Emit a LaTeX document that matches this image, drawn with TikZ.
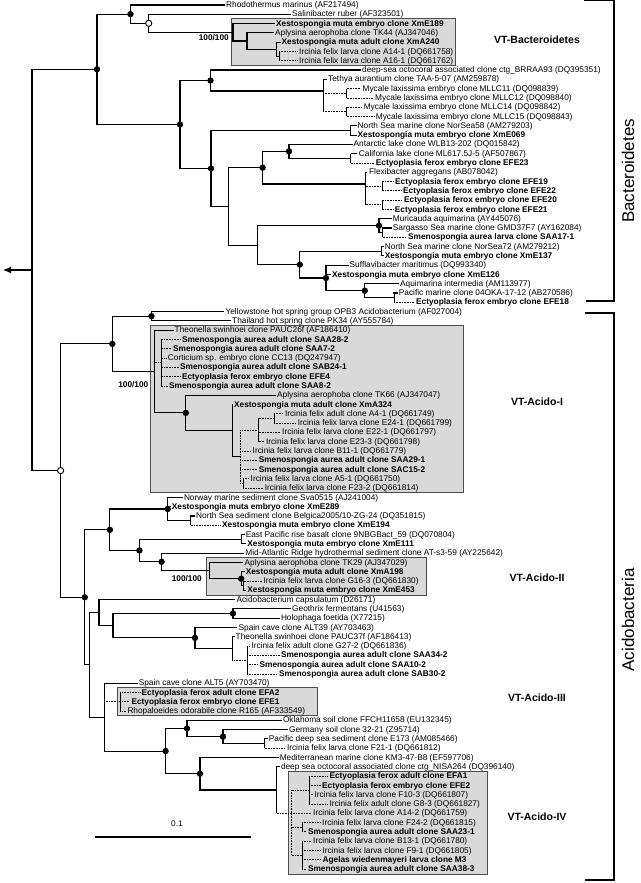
\documentclass[tikz,border=0pt]{standalone}
\usepackage{fontspec}
\setmainfont{Liberation Sans}
\usetikzlibrary{arrows.meta}
\newcommand\Lf[7]{\node[#6] (#1) at ({#3-1.5},#4) {#7};\draw[#5] (#2 |- #1.mid west) -- (#1.mid west);}
\begin{document}
\begin{tikzpicture}[x=1pt,y=-1pt,
  tl/.style={line width=1.1pt,line cap=rect},
  tn/.style={line width=0.6pt},
  dl/.style={line width=0.7pt,dash pattern=on 0.7pt off 0.9pt},
  lab/.style={anchor=mid west,inner xsep=1.5pt,inner ysep=0pt,font=\fontsize{8.3}{9}\selectfont},
  blab/.style={lab,font=\fontsize{8.3}{9}\selectfont\bfseries},
  vtbox/.style={fill=black!15,draw=black!70,line width=0.9pt},
  vtlab/.style={font=\fontsize{10.5}{12}\selectfont\bfseries},
  bs/.style={font=\fontsize{8.3}{9}\selectfont\bfseries,anchor=mid east,inner sep=0pt},
  brk/.style={line width=1.2pt},
  grp/.style={font=\fontsize{17}{20}\selectfont,rotate=90}]
\useasboundingbox (0,0) rectangle (640,883);
% boxes
\draw[vtbox] (231.5,18.9) rectangle (455,65.4);
\draw[vtbox] (150.7,325.5) rectangle (463.4,492.7);
\draw[vtbox] (206.8,557.8) rectangle (426.2,595);
\draw[vtbox] (117.2,687.8) rectangle (317.1,715.7);
\draw[vtbox] (288,771.4) rectangle (487,874);
% internal nodes Bacteroidetes
\coordinate (Rt) at (32,270);
\coordinate (tip) at (3,270);
\coordinate (R) at (97,69.3);
\coordinate (A) at (130.5,14.15);
\coordinate (S) at (148.7,23.3);
\coordinate (B1) at (233,32.3);
\coordinate (B2) at (247,41);
\coordinate (B3) at (276.5,49.1);
\coordinate (B4) at (279,56.1);
\coordinate (C) at (180,124.5);
\coordinate (D) at (210.5,80.5);
\coordinate (E) at (323,91);
\coordinate (E1) at (346.6,93.25);
\coordinate (E2) at (346.6,111.84);
\coordinate (F) at (350.7,130.4);
\coordinate (G) at (211,168.5);
\coordinate (H) at (228.3,206.4);
\coordinate (I) at (262.6,167.7);
\coordinate (K) at (289,151.3);
\coordinate (L) at (350.7,158.3);
\coordinate (M) at (365.6,184);
\coordinate (N1) at (381.8,186.2);
\coordinate (N2) at (381.8,204.7);
\coordinate (J) at (257.3,245.2);
\coordinate (O) at (379,225.7);
\coordinate (Q) at (382.6,232.6);
\coordinate (P) at (299.8,264.6);
\coordinate (R2) at (381.8,251.2);
\coordinate (S2) at (326,278);
\coordinate (T2) at (364.8,290.7);
\coordinate (U) at (394,297.6);
% internal nodes Acidobacteria
\coordinate (AC) at (60.6,470.6);
\coordinate (W) at (112.3,343.9);
\coordinate (V) at (151.5,316.2);
\coordinate (X) at (154.7,371.5);
\coordinate (Y) at (160.8,362.7);
\coordinate (Z) at (185.8,412.9);
\coordinate (Z2) at (232.3,430.6);
\coordinate (Z3) at (240.4,456.7);
\coordinate (Z4) at (258.6,430);
\coordinate (Z6) at (274,418.4);
\coordinate (Z5) at (243.2,483.4);
\coordinate (AB) at (84.8,597.3);
\coordinate (AA) at (109.9,529.8);
\coordinate (BA) at (167.7,509);
\coordinate (BP) at (190.7,520.6);
\coordinate (BB) at (139.4,550.5);
\coordinate (BC) at (241.2,539.2);
\coordinate (BD) at (161.6,561.8);
\coordinate (BE) at (209.3,570.5);
\coordinate (BF) at (241.2,578.7);
\coordinate (BG) at (243.5,585.6);
\coordinate (AD) at (89.7,664.9);
\coordinate (AE) at (99,612.6);
\coordinate (AG) at (113,625.7);
\coordinate (AH) at (233,613.5);
\coordinate (AI) at (195,637.9);
\coordinate (AJ) at (232.3,648.4);
\coordinate (AK) at (247.2,660);
\coordinate (AF) at (104.2,717.1);
\coordinate (AIII) at (120.4,701.75);
\coordinate (AL) at (165.6,751.1);
\coordinate (AM) at (187,728.5);
\coordinate (AO) at (223,736.6);
\coordinate (AP) at (264.6,743.6);
\coordinate (AN) at (200,773.7);
\coordinate (AQ) at (276.7,790);
\coordinate (AR) at (291.7,813.23);
\coordinate (AS) at (309,790);
\coordinate (AT) at (302.2,827.2);
\coordinate (AU) at (302.2,855);
% leaves Bacteroidetes
\Lf{l1}{A}{226}{5}{tl}{lab}{Rhodothermus marinus (AF217494)}
\Lf{l2}{S}{292}{14.29}{tl}{lab}{Salinibacter ruber (AF323501)}
\Lf{l3}{B1}{276}{23.58}{tl}{blab}{Xestospongia muta embryo clone XmE189}
\Lf{l4}{B2}{275}{32.87}{tl}{lab}{Aplysina aerophoba clone TK44 (AJ347046)}
\Lf{l5}{B3}{281.5}{42.16}{tl}{blab}{Xestospongia muta adult clone XmA240}
\Lf{l6}{B4}{299}{51.45}{dl}{lab}{Ircinia felix larva clone A14-1 (DQ661758)}
\Lf{l7}{B4}{299}{60.74}{dl}{lab}{Ircinia felix larva clone A16-1 (DQ661762)}
\Lf{l8}{D}{362}{70.03}{tl}{lab}{deep-sea octocoral associated clone ctg\_BRRAA93 (DQ395351)}
\Lf{l9}{E}{328}{79.32}{tn}{lab}{Tethya aurantium clone TAA-5-07 (AM259878)}
\Lf{l10}{E1}{362.4}{88.61}{dl}{lab}{Mycale laxissima embryo clone MLLC11 (DQ098839)}
\Lf{l11}{E1}{375}{97.9}{dl}{lab}{Mycale laxissima embryo clone MLLC12 (DQ098840)}
\Lf{l12}{E2}{363.6}{107.19}{dl}{lab}{Mycale laxissima embryo clone MLLC14 (DQ098842)}
\Lf{l13}{E2}{375.7}{116.48}{dl}{lab}{Mycale laxissima embryo clone MLLC15 (DQ098843)}
\Lf{l14}{F}{357.5}{125.77}{tl}{lab}{North Sea marine clone NorSea58 (AM279203)}
\Lf{l15}{F}{357.5}{135.06}{tl}{blab}{Xestospongia muta embryo clone XmE069}
\Lf{l16}{K}{353.5}{144.35}{tl}{lab}{Antarctic lake clone WLB13-202 (DQ015842)}
\Lf{l17}{L}{358.7}{153.64}{tn}{lab}{California lake clone ML617.5J-5 (AF507867)}
\Lf{l18}{L}{375.7}{162.93}{dl}{blab}{Ectyoplasia ferox embryo clone EFE23}
\Lf{l19}{M}{368.9}{172.22}{tn}{lab}{Flexibacter aggregans (AB078042)}
\Lf{l20}{N1}{395}{181.51}{dl}{blab}{Ectyoplasia ferox embryo clone EFE19}
\Lf{l21}{N1}{403}{190.8}{dl}{blab}{Ectyoplasia ferox embryo clone EFE22}
\Lf{l22}{N2}{404}{200.09}{dl}{blab}{Ectyoplasia ferox embryo clone EFE20}
\Lf{l23}{N2}{394.7}{209.38}{dl}{blab}{Ectyoplasia ferox embryo clone EFE21}
\Lf{l24}{O}{392.7}{218.67}{tl}{lab}{Muricauda aquimarina (AY445076)}
\Lf{l25}{Q}{392.7}{227.96}{tl}{lab}{Sargasso Sea marine clone GMD37F7 (AY162084)}
\Lf{l26}{Q}{408}{237.25}{dl}{blab}{Smenospongia aurea larva clone SAA17-1}
\Lf{l27}{R2}{384.6}{246.54}{tl}{lab}{North Sea marine clone NorSea72 (AM279212)}
\Lf{l28}{R2}{384.6}{255.83}{tl}{blab}{Xestospongia muta embryo clone XmE137}
\Lf{l29}{S2}{349.5}{265.12}{tl}{lab}{Sufflavibacter maritimus (DQ993340)}
\Lf{l30}{S2}{332}{274.41}{tl}{blab}{Xestospongia muta embryo clone XmE126}
\Lf{l31}{T2}{400}{283.7}{tl}{lab}{Aquimarina intermedia (AM113977)}
\Lf{l32}{U}{398.7}{292.99}{tl}{lab}{Pacific marine clone 04OKA-17-12 (AB270586)}
\Lf{l33}{U}{416}{302.28}{dl}{blab}{Ectyoplasia ferox embryo clone EFE18}
% leaves Acidobacteria
\Lf{l34}{V}{225.4}{311.57}{tl}{lab}{Yellowstone hot spring group OPB3 Acidobacterium (AF027004)}
\Lf{l35}{V}{232}{320.86}{tl}{lab}{Thailand hot spring clone PK34 (AY555784)}
\Lf{l36}{X}{174.5}{330.15}{tl}{lab}{Theonella swinhoei clone PAUC26f (AF186410)}
\Lf{l37}{Y}{181.8}{339.44}{dl}{blab}{Smenospongia aurea adult clone SAA28-2}
\Lf{l38}{Y}{173}{348.73}{dl}{blab}{Smenospongia aurea adult clone SAA7-2}
\Lf{l39}{Y}{167.7}{358.02}{dl}{lab}{Corticium sp. embryo clone CC13 (DQ247947)}
\Lf{l40}{Y}{180}{367.31}{dl}{blab}{Smenospongia aurea adult clone SAB24-1}
\Lf{l41}{Y}{181.8}{376.6}{dl}{blab}{Ectyoplasia ferox embryo clone EFE4}
\Lf{l42}{Y}{168.9}{385.89}{dl}{blab}{Smenospongia aurea adult clone SAA8-2}
\Lf{l43}{Z}{277}{395.18}{tl}{lab}{Aplysina aerophoba clone TK66 (AJ347047)}
\Lf{l44}{Z2}{234}{404.47}{tl}{blab}{Xestospongia muta adult clone XmA324}
\Lf{l45}{Z6}{284.8}{413.76}{dl}{lab}{Ircinia felix adult clone A4-1 (DQ661749)}
\Lf{l46}{Z6}{297.7}{423.05}{dl}{lab}{Ircinia felix larva clone E24-1 (DQ661799)}
\Lf{l47}{Z4}{282}{432.34}{dl}{lab}{Ircinia felix larva clone E22-1 (DQ661797)}
\Lf{l48}{Z4}{265.8}{441.63}{dl}{lab}{Ircinia felix larva clone E23-3 (DQ661798)}
\Lf{l49}{Z3}{252.5}{450.92}{dl}{lab}{Ircinia felix larva clone B11-1 (DQ661779)}
\Lf{l50}{Z3}{258.6}{460.21}{dl}{blab}{Smenospongia aurea adult clone SAA29-1}
\Lf{l51}{Z3}{258.6}{469.5}{dl}{blab}{Smenospongia aurea adult clone SAC15-2}
\Lf{l52}{Z5}{250.5}{478.79}{dl}{lab}{Ircinia felix larva clone A5-1 (DQ661750)}
\Lf{l53}{Z5}{264.6}{488.08}{dl}{lab}{Ircinia felix larva clone F23-2 (DQ661814)}
\Lf{l54}{BA}{183.8}{497.37}{tl}{lab}{Norway marine sediment clone Sva0515 (AJ241004)}
\Lf{l55}{BA}{171.7}{506.66}{tl}{blab}{Xestospongia muta embryo clone XmE289}
\Lf{l56}{BP}{196}{515.95}{tl}{lab}{North Sea sediment clone Belgica2005/10-ZG-24 (DQ351815)}
\Lf{l57}{BP}{222}{525.24}{dl}{blab}{Xestospongia muta embryo clone XmE194}
\Lf{l58}{BC}{245.6}{534.53}{tl}{lab}{East Pacific rise basalt clone 9NBGBact\_59 (DQ070804)}
\Lf{l59}{BC}{247.2}{543.82}{tl}{blab}{Xestospongia muta embryo clone XmE111}
\Lf{l60}{BD}{245.2}{553.11}{tl}{lab}{Mid-Atlantic Ridge hydrothermal sediment clone AT-s3-59 (AY225642)}
\Lf{l61}{BE}{244.4}{562.4}{tl}{lab}{Aplysina aerophoba clone TK29 (AJ347029)}
\Lf{l62}{BF}{245.6}{571.69}{tl}{blab}{Xestospongia muta adult clone XmA198}
\Lf{l63}{BG}{263.4}{580.98}{dl}{lab}{Ircinia felix larva clone G16-3 (DQ661830)}
\Lf{l64}{BG}{247.2}{590.27}{tl}{blab}{Xestospongia muta embryo clone XmE453}
\Lf{l65}{AE}{236.3}{599.56}{tl}{lab}{Acidobacterium capsulatum (D26171)}
\Lf{l66}{AH}{292}{608.85}{tl}{lab}{Geothrix fermentans (U41563)}
\Lf{l67}{AH}{280.8}{618.14}{tl}{lab}{Holophaga foetida (X77215)}
\Lf{l68}{AI}{238.4}{627.43}{tl}{lab}{Spain cave clone ALT39 (AY703463)}
\Lf{l69}{AJ}{235.5}{636.72}{tl}{lab}{Theonella swinhoei clone PAUC37f (AF186413)}
\Lf{l70}{AK}{251.3}{646.01}{dl}{lab}{Ircinia felix adult clone G27-2 (DQ661836)}
\Lf{l71}{AK}{280.8}{655.3}{dl}{blab}{Smenospongia aurea adult clone SAA34-2}
\Lf{l72}{AK}{259.4}{664.59}{dl}{blab}{Smenospongia aurea adult clone SAA10-2}
\Lf{l73}{AK}{278.8}{673.88}{dl}{blab}{Smenospongia aurea adult clone SAB30-2}
\Lf{l74}{AF}{138.6}{683.17}{tl}{lab}{Spain cave clone ALT5 (AY703470)}
\Lf{l75}{AIII}{141.4}{692.46}{dl}{blab}{Ectyoplasia ferox adult clone EFA2}
\Lf{l76}{AIII}{131.3}{701.75}{dl}{blab}{Ectyoplasia ferox embryo clone EFE1}
\Lf{l77}{AIII}{127.3}{711.04}{dl}{lab}{Rhopaloeides odorabile clone R165 (AF333549)}
\Lf{l78}{AM}{282.8}{720.33}{tl}{lab}{Oklahoma soil clone FFCH11658 (EU132345)}
\Lf{l79}{AO}{288.9}{729.62}{tl}{lab}{Germany soil clone 32-21 (Z95714)}
\Lf{l80}{AP}{268.7}{738.91}{tl}{lab}{Pacific deep sea sediment clone E173 (AM085466)}
\Lf{l81}{AP}{286.8}{748.2}{dl}{lab}{Ircinia felix larva clone F21-1 (DQ661812)}
\Lf{l82}{AN}{279.6}{757.49}{tl}{lab}{Mediterranean marine clone KM3-47-B8 (EF597706)}
\Lf{l83}{AQ}{280.8}{766.78}{tl}{lab}{deep sea octocoral associated clone ctg\_NISA264 (DQ396140)}
\Lf{l84}{AS}{329.3}{776.07}{dl}{blab}{Ectyoplasia ferox adult clone EFA1}
\Lf{l85}{AS}{322}{785.36}{dl}{blab}{Ectyoplasia ferox embryo clone EFE2}
\Lf{l86}{AS}{314.3}{794.65}{dl}{lab}{Ircinia felix larva clone F10-3 (DQ661807)}
\Lf{l87}{AS}{329.3}{803.94}{dl}{lab}{Ircinia felix adult clone G8-3 (DQ661827)}
\Lf{l88}{AQ}{313}{813.23}{dl}{lab}{Ircinia felix larva clone A14-2 (DQ661759)}
\Lf{l89}{AT}{322}{822.52}{dl}{lab}{Ircinia felix larva clone F24-2 (DQ661815)}
\Lf{l90}{AT}{308}{831.81}{dl}{blab}{Smenospongia aurea adult clone SAA23-1}
\Lf{l91}{AU}{313}{841.1}{dl}{lab}{Ircinia felix larva clone B13-1 (DQ661780)}
\Lf{l92}{AU}{322.4}{850.39}{dl}{lab}{Ircinia felix larva clone F9-1 (DQ661805)}
\Lf{l93}{AU}{322.4}{859.68}{dl}{blab}{Agelas wiedenmayeri larva clone M3}
\Lf{l94}{AU}{307.8}{868.97}{dl}{blab}{Smenospongia aurea adult clone SAA38-3}
% root
\draw[tl,-{Latex[length=8pt,width=7pt]}] (Rt) -- (tip);
\draw[tl] (Rt |- R) -- (Rt |- AC);
\draw[tl] (Rt |- R) -- (R);
\draw[tl] (Rt |- AC) -- (AC);
% Bacteroidetes verticals
\draw[tl] (R |- A) -- (R |- C);
\draw[tl] (A |- l1.mid west) -- (A |- S);
\draw[tl] (S |- l2.mid west) -- (S |- B1);
\draw[tl] (B1 |- l3.mid west) -- (B1 |- B2);
\draw[tl] (B2 |- l4.mid west) -- (B2 |- B3);
\draw[tl] (B3 |- l5.mid west) -- (B3 |- B4);
\draw[tn] (B4 |- l6.mid west) -- (B4 |- l7.mid west);
\draw[tl] (C |- D) -- (C |- G);
\draw[tl] (D |- l8.mid west) -- (D |- E);
\draw[tn] (E |- l9.mid west) -- (E |- E2);
\draw[tn] (E1 |- l10.mid west) -- (E1 |- l11.mid west);
\draw[tn] (E2 |- l12.mid west) -- (E2 |- l13.mid west);
\draw[tl] (F |- l14.mid west) -- (F |- l15.mid west);
\draw[tl] (G |- F) -- (G |- H);
\draw[tl] (H |- I) -- (H |- J);
\draw[tl] (I |- K) -- (I |- M);
\draw[tl] (K |- l16.mid west) -- (K |- L);
\draw[tn] (L |- l17.mid west) -- (L |- l18.mid west);
\draw[tn] (M |- l19.mid west) -- (M |- N2);
\draw[tn] (N1 |- l20.mid west) -- (N1 |- l21.mid west);
\draw[tn] (N2 |- l22.mid west) -- (N2 |- l23.mid west);
\draw[tl] (J |- O) -- (J |- P);
\draw[tl] (O |- l24.mid west) -- (O |- Q);
\draw[tn] (Q |- l25.mid west) -- (Q |- l26.mid west);
\draw[tl] (P |- R2) -- (P |- S2);
\draw[tl] (R2 |- l27.mid west) -- (R2 |- l28.mid west);
\draw[tl] (S2 |- l29.mid west) -- (S2 |- T2);
\draw[tl] (T2 |- l31.mid west) -- (T2 |- U);
\draw[tn] (U |- l32.mid west) -- (U |- l33.mid west);
% Bacteroidetes horizontals
\foreach \p/\c in {R/A,R/C,A/S,S/B1,B1/B2,B2/B3,C/D,C/G,D/E,G/F,G/H,H/I,H/J,I/K,I/M,K/L,J/O,J/P,O/Q,P/R2,P/S2,S2/T2,T2/U}
  \draw[tl] (\p |- \c) -- (\c);
\foreach \p/\c in {B3/B4,E/E1,E/E2,M/N1,M/N2}
  \draw[dl] (\p |- \c) -- (\c);
% Acidobacteria verticals
\draw[tl] (AC |- W) -- (AC |- AB);
\draw[tl] (W |- V) -- (W |- X);
\draw[tl] (V |- l34.mid west) -- (V |- l35.mid west);
\draw[tl] (X |- l36.mid west) -- (X |- Z);
\draw[tn] (Y |- l37.mid west) -- (Y |- l42.mid west);
\draw[tl] (Z |- l43.mid west) -- (Z |- Z2);
\draw[tl] (Z2 |- l44.mid west) -- (Z2 |- Z3);
\draw[dl] (Z3 |- Z4) -- (Z3 |- Z5);
\draw[tn] (Z4 |- Z6) -- (Z4 |- l48.mid west);
\draw[tn] (Z6 |- l45.mid west) -- (Z6 |- l46.mid west);
\draw[tn] (Z5 |- l52.mid west) -- (Z5 |- l53.mid west);
\draw[tl] (AB |- AA) -- (AB |- AD);
\draw[tl] (AA |- BA) -- (AA |- BB);
\draw[tl] (BA |- l54.mid west) -- (BA |- BP);
\draw[tn] (BP |- l56.mid west) -- (BP |- l57.mid west);
\draw[tl] (BB |- BC) -- (BB |- BD);
\draw[tl] (BC |- l58.mid west) -- (BC |- l59.mid west);
\draw[tl] (BD |- l60.mid west) -- (BD |- BE);
\draw[tl] (BE |- l61.mid west) -- (BE |- BF);
\draw[tl] (BF |- l62.mid west) -- (BF |- BG);
\draw[tn] (BG |- l63.mid west) -- (BG |- l64.mid west);
\draw[tl] (AD |- AE) -- (AD |- AF);
\draw[tl] (AE |- l65.mid west) -- (AE |- AG);
\draw[tl] (AG |- AH) -- (AG |- AI);
\draw[tl] (AH |- l66.mid west) -- (AH |- l67.mid west);
\draw[tl] (AI |- l68.mid west) -- (AI |- AJ);
\draw[tl] (AJ |- l69.mid west) -- (AJ |- AK);
\draw[tn] (AK |- l70.mid west) -- (AK |- l73.mid west);
\draw[tl] (AF |- l74.mid west) -- (AF |- AL);
\draw[tn] (AIII |- l75.mid west) -- (AIII |- l77.mid west);
\draw[tl] (AL |- AM) -- (AL |- AN);
\draw[tl] (AM |- l78.mid west) -- (AM |- AO);
\draw[tl] (AO |- l79.mid west) -- (AO |- AP);
\draw[tn] (AP |- l80.mid west) -- (AP |- l81.mid west);
\draw[tl] (AN |- l82.mid west) -- (AN |- AQ);
\draw[tl] (AQ |- l83.mid west) -- (AQ);
\draw[tn] (AQ) -- (AQ |- l88.mid west);
\draw[dl] (AR |- AS) -- (AR |- AU);
\draw[tn] (AS |- l84.mid west) -- (AS |- l87.mid west);
\draw[tn] (AT |- l89.mid west) -- (AT |- l90.mid west);
\draw[tn] (AU |- l91.mid west) -- (AU |- l94.mid west);
% Acidobacteria horizontals
\foreach \p/\c in {AC/W,AC/AB,W/V,W/X,X/Z,Z/Z2,Z2/Z3,AB/AA,AB/AD,AA/BA,AA/BB,BA/BP,BB/BC,BB/BD,BD/BE,BE/BF,BF/BG,AD/AE,AD/AF,AE/AG,AG/AH,AG/AI,AI/AJ,AF/AL,AL/AM,AL/AN,AM/AO,AO/AP,AN/AQ}
  \draw[tl] (\p |- \c) -- (\c);
\foreach \p/\c in {X/Y,Z3/Z4,Z3/Z5,Z4/Z6,AJ/AK,AF/AIII,AR/AS,AR/AT,AR/AU}
  \draw[dl] (\p |- \c) -- (\c);
% support dots
\foreach \n in {R,A,C,D,G,I,K,O,P,S2,T2,W,V,Z,BA,AA,BB,BD,BF,AB,AH,AI,AL,AM,AO,AN}
  \fill (\n) circle[radius=3.2pt];
\foreach \n in {S,AC}
  \draw[fill=white,line width=0.9pt] (\n) circle[radius=3.1pt];
% bootstrap labels
\node[bs] (bs1) at (229,37.5) {100/100};
\node[bs] (bs2) at (148.5,385) {100/100};
\node[bs] (bs3) at (202,578.5) {100/100};
% clade labels
\node[vtlab] (vtb) at (537,40) {VT-Bacteroidetes};
\node[vtlab] (vt1) at (537,402) {VT-Acido-I};
\node[vtlab] (vt2) at (537,578) {VT-Acido-II};
\node[vtlab] (vt3) at (537,698) {VT-Acido-III};
\node[vtlab] (vt4) at (537,817) {VT-Acido-IV};
% brackets
\draw[brk] (584,0.8) -| (614,301) -- (586,301);
\draw[brk] (585,313) -| (614,880) -- (585,880);
\node[grp] (gb) at (628,171) {Bacteroidetes};
\node[grp] (ga) at (628,620) {Acidobacteria};
% scale bar
\coordinate (sb1) at (95,837);
\coordinate (sb2) at (251,837);
\draw[line width=1.1pt] (sb1) -- (sb2);
\node[font=\fontsize{8.3}{9}\selectfont] (sbl) at (177,824) {0.1};
\end{tikzpicture}
\end{document}
